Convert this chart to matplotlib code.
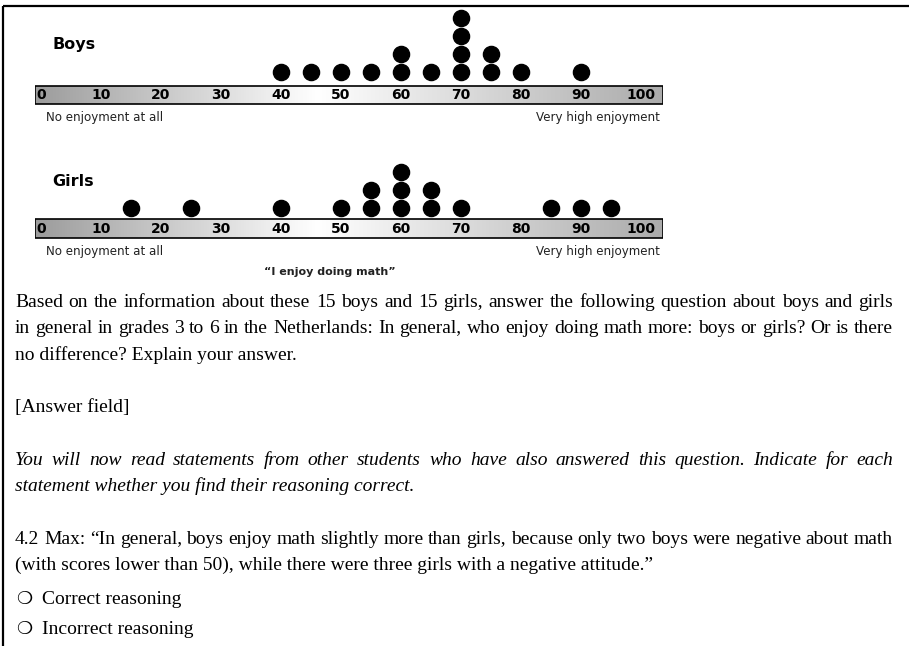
import numpy as np
import matplotlib.pyplot as plt
from matplotlib.patches import Rectangle
from matplotlib.colors import LinearSegmentedColormap

# ---------------------------------------------------------------------------- #
#                                     DATA                                     #
# ---------------------------------------------------------------------------- #
boys = [40, 45, 50, 55, 60, 60, 65, 70, 70, 70, 70, 75, 75, 80, 90]
girls = [15, 25, 40, 50, 55, 55, 60, 60, 60, 65, 65, 70, 85, 90, 95]
tick_values = [0, 10, 20, 30, 40, 50, 60, 70, 80, 90, 100]

body = [
    ('Based on the information about these 15 boys and 15 girls, answer the following question about boys and girls', 'normal', True),
    ('in general in grades 3 to 6 in the Netherlands: In general, who enjoy doing math more: boys or girls? Or is there', 'normal', True),
    ('no difference? Explain your answer.', 'normal', False),
    ('', 'normal', False),
    ('[Answer field]', 'normal', False),
    ('', 'normal', False),
    ('You will now read statements from other students who have also answered this question. Indicate for each', 'italic', True),
    ('statement whether you find their reasoning correct.', 'italic', False),
    ('', 'normal', False),
    ('4.2 Max: \u201cIn general, boys enjoy math slightly more than girls, because only two boys were negative about math', 'normal', True),
    ('(with scores lower than 50), while there were three girls with a negative attitude.\u201d', 'normal', False),
]
options = ['Correct reasoning', 'Incorrect reasoning']

W, H = 909, 646
fig = plt.figure(figsize=(W / 100, H / 100), dpi=100)
page = fig.add_axes([0, 0, 1, 1])
page.set_xlim(0, W)
page.set_ylim(H, 0)
page.axis('off')

# frame lines (top and left)
page.plot([3, W], [6, 6], color='black', lw=1.6, solid_capstyle='butt')
page.plot([3, 3], [6, H], color='black', lw=1.6, solid_capstyle='butt')

bar_cmap = LinearSegmentedColormap.from_list(
    'bar', [(0, '#9c9c9c'), (0.45, '#ffffff'), (1, '#ababab')])
SANS = 'DejaVu Sans'
STEP = 18  # px between stacked dots


def dot_panel(values, label, y1, bar_top, bar_bot):
    # axes box in pixels: x 35..663 ; value v sits at 41 + 6 v
    x0, x1 = 35, 663
    top, bot = bar_top - 85, bar_bot + 1
    ax = fig.add_axes([x0 / W, 1 - bot / H, (x1 - x0) / W, (bot - top) / H])
    ax.set_xlim((x0 - 41) / 6, (x1 - 41) / 6)
    to_y = lambda px: (y1 - px) / STEP + 1
    ax.set_ylim(to_y(bot), to_y(top))
    ax.axis('off')

    lo, hi = to_y(bar_bot), to_y(bar_top)
    grad = np.linspace(0, 1, 256)[None, :]
    xl = ax.get_xlim()
    ax.imshow(grad, cmap=bar_cmap, aspect='auto', extent=[xl[0], xl[1], lo, hi],
              zorder=1)
    ax.add_patch(Rectangle((xl[0], lo), xl[1] - xl[0], hi - lo, fill=False,
                           ec='black', lw=1.2, zorder=2))
    ax.set_xlim(xl)
    ax.set_ylim(to_y(bot), to_y(top))

    # stack the dots
    xs, ys, seen = [], [], {}
    for v in values:
        seen[v] = seen.get(v, 0) + 1
        xs.append(v)
        ys.append(seen[v])
    ax.scatter(xs, ys, s=135, color='black', zorder=3, clip_on=False)

    ymid = (lo + hi) / 2
    for t in tick_values:
        if t == 0:
            ax.text(xl[0] + 0.3, ymid, '0', ha='left', va='center',
                    fontsize=10, fontweight='bold', family=SANS, zorder=4)
        elif t == 100:
            ax.text(xl[1] - 1.2, ymid, '100', ha='right', va='center',
                    fontsize=10, fontweight='bold', family=SANS, zorder=4)
        else:
            ax.text(t, ymid, str(t), ha='center', va='center',
                    fontsize=10, fontweight='bold', family=SANS, zorder=4)

    page.text(52, y1 - 27, label, ha='left', va='center', fontsize=11.5,
              fontweight='bold', family=SANS)
    page.text(46, bar_bot + 14, 'No enjoyment at all', ha='left', va='center',
              fontsize=8.6, family=SANS, color='#222222')
    page.text(660, bar_bot + 14, 'Very high enjoyment', ha='right', va='center',
              fontsize=8.6, family=SANS, color='#222222')
    return ax


dot_panel(boys, 'Boys', 72, 86, 104)
dot_panel(girls, 'Girls', 208, 219, 238)
page.text(330, 272, '\u201cI enjoy doing math\u201d', ha='center', va='center',
          fontsize=8, fontweight='bold', family=SANS, color='#222222')

# ---------------------------------------------------------------------------- #
#                                  BODY TEXT                                   #
# ---------------------------------------------------------------------------- #
SERIF = 'Liberation Serif'
FS = 14
LEFT, RIGHT = 15, 893
renderer = fig.canvas.get_renderer()

y = 307
for line, style, justify in body:
    if line:
        if justify:
            words = line.split(' ')
            objs = [page.text(0, y, w, ha='left', va='baseline', fontsize=FS,
                              family=SERIF, style=style) for w in words]
            widths = [o.get_window_extent(renderer).width for o in objs]
            gap = (RIGHT - LEFT - sum(widths)) / (len(words) - 1)
            x = LEFT
            for o, w in zip(objs, widths):
                o.set_x(x)
                x += w + gap
        else:
            page.text(LEFT, y, line, ha='left', va='baseline', fontsize=FS,
                      family=SERIF, style=style)
    y += 26.3

y = 604
for opt in options:
    page.text(16, y - 5, '\u274d', ha='left', va='center', fontsize=13,
              family='DejaVu Sans')
    page.text(42, y, opt, ha='left', va='baseline', fontsize=FS, family=SERIF)
    y += 30

fig.savefig('out.png', dpi=100)
